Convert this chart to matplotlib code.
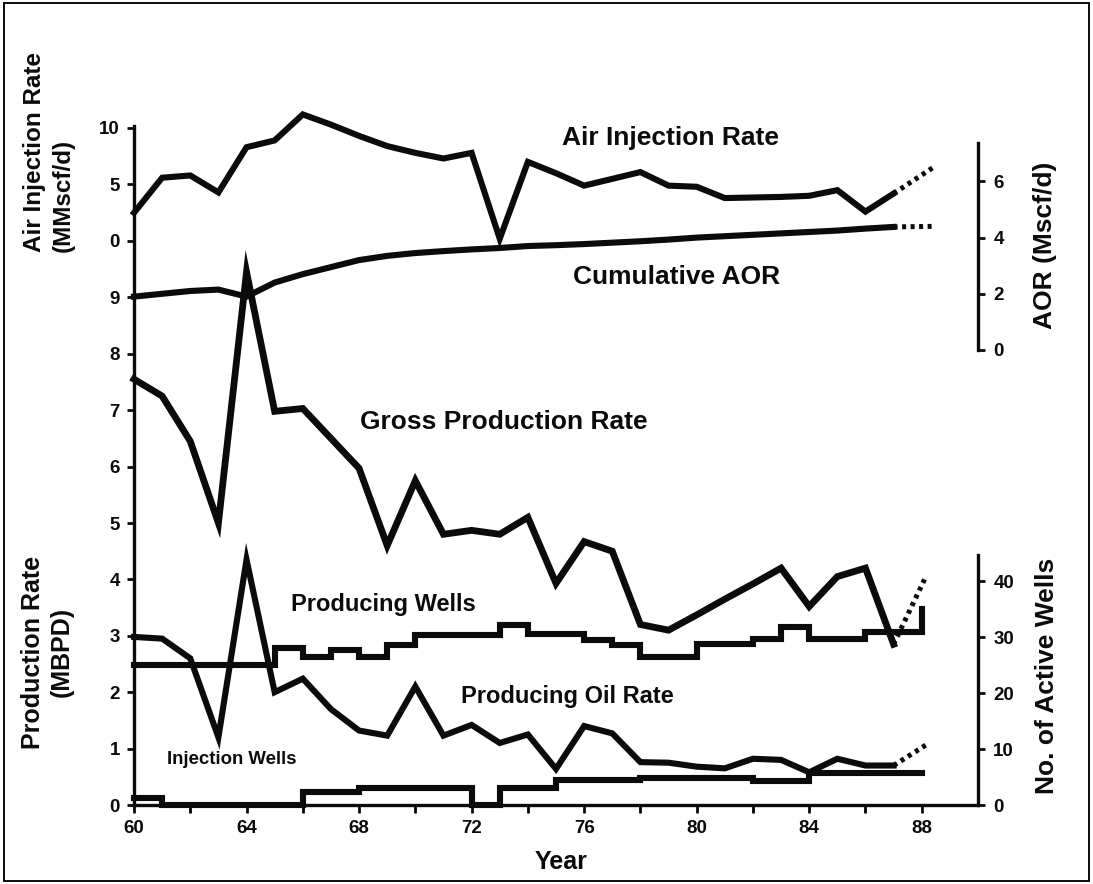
import matplotlib
matplotlib.use("Agg")
import matplotlib.pyplot as plt
from matplotlib.patches import Rectangle

# ---------------- data ----------------
years = list(range(60, 88))

air_injection = [2.5, 5.6, 5.8, 4.3, 8.3, 8.9, 11.2, 10.3, 9.3, 8.4, 7.8, 7.3, 7.8, 0.2,
                 7.0, 6.0, 4.9, 5.5, 6.1, 4.9, 4.8, 3.8, 3.85, 3.9, 4.0, 4.5, 2.6, 4.2]
air_injection_proj_years = [87, 88.4]
air_injection_proj = [4.2, 6.5]

cumulative_aor = [1.9, 2.0, 2.1, 2.15, 1.9, 2.4, 2.7, 2.95, 3.2, 3.35, 3.45, 3.52, 3.58, 3.63,
                  3.7, 3.73, 3.77, 3.82, 3.87, 3.93, 4.0, 4.05, 4.1, 4.15, 4.2, 4.25, 4.32, 4.38]
cumulative_aor_proj_years = [87, 88.4]
cumulative_aor_proj = [4.38, 4.4]

gross_rate = [7.55, 7.25, 6.45, 5.0, 9.45, 6.98, 7.03, 6.5, 5.97, 4.6, 5.75, 4.8, 4.87, 4.8,
              5.1, 3.93, 4.67, 4.5, 3.2, 3.1, 3.37, 3.65, 3.92, 4.2, 3.52, 4.05, 4.2, 2.85]
gross_rate_proj_years = [87, 88.1]
gross_rate_proj = [2.85, 4.0]

oil_rate = [2.98, 2.95, 2.6, 1.2, 4.35, 2.0, 2.24, 1.7, 1.32, 1.23, 2.1, 1.23, 1.42, 1.1,
            1.25, 0.64, 1.4, 1.27, 0.76, 0.75, 0.68, 0.65, 0.82, 0.8, 0.58, 0.82, 0.7, 0.7]
oil_rate_proj_years = [87, 88.2]
oil_rate_proj = [0.7, 1.08]

producing_wells_years = [60, 65, 66, 67, 68, 69, 70, 73, 74, 76, 77, 78, 80, 82, 83, 84, 86, 88, 88]
producing_wells = [25, 28, 26.5, 27.7, 26.5, 28.5, 30.3, 32.2, 30.5, 29.5, 28.6, 26.4, 28.8,
                   29.6, 31.8, 29.6, 30.9, 30.9, 35]

injection_wells_years = [60, 61, 66, 68, 72, 73, 75, 78, 82, 84, 88]
injection_wells = [1.2, 0, 2.3, 3.0, 0, 3.0, 4.4, 4.8, 4.2, 5.8, 5.8]

year_ticks = [60, 64, 68, 72, 76, 80, 84, 88]
year_minor = [62, 66, 70, 74, 78, 82, 86]
prod_ticks = list(range(0, 10))
air_ticks = [0, 5, 10]
aor_ticks = [0, 2, 4, 6]
wells_ticks = [0, 10, 20, 30, 40]

# ---------------- layout ----------------
W, H = 1093, 884
INK = "#0b0b0b"
plt.rcParams["font.family"] = ["Liberation Sans", "DejaVu Sans"]
tick_font = {"family": ["Liberation Sans Narrow", "Liberation Sans", "DejaVu Sans"],
             "size": 13.5, "weight": "bold"}

fig = plt.figure(figsize=(W / 100, H / 100), dpi=100)


def rect(x0, y_top, x1, y_bot):
    return [x0 / W, 1 - y_bot / H, (x1 - x0) / W, (y_bot - y_top) / H]


def fx(x):
    return x / W


def fy(y):
    return 1 - y / H


X0, X1 = 134, 978
PROD_PX = 56.4

ax = fig.add_axes(rect(X0, 126, X1, 805))
ax_air = fig.add_axes(rect(X0, 128, X1, 241))
ax_aor = fig.add_axes(rect(X0, 143, X1, 350))
ax_wells = fig.add_axes(rect(X0, 555, X1, 805))

for a in (ax, ax_air, ax_aor, ax_wells):
    a.set_xlim(60, 90)
    a.patch.set_visible(False)
    for s in a.spines.values():
        s.set_visible(False)
        s.set_linewidth(2.4)
        s.set_color(INK)
    a.tick_params(colors=INK, width=2.0, length=5, pad=5)

ax.set_ylim(0, (805 - 126) / PROD_PX)
ax_air.set_ylim(0, 10)
ax_aor.set_ylim(0, (350 - 143) / 28.1)
ax_wells.set_ylim(0, (805 - 555) / 5.6)

# main axes: production rate + year
ax.spines["left"].set_visible(True)
ax.spines["bottom"].set_visible(True)
ax.set_yticks(prod_ticks)
ax.set_yticklabels([str(t) for t in prod_ticks], fontdict=tick_font)
ax.set_xticks(year_ticks)
ax.set_xticks(year_minor, minor=True)
ax.set_xticklabels([str(t) for t in year_ticks], fontdict=tick_font)
ax.tick_params(axis="x", which="both", direction="out", length=6, width=2.0, pad=5)

# air injection scale on the upper part of the left axis
ax_air.set_xticks([])
ax_air.set_yticks(air_ticks)
ax_air.set_yticklabels([str(t) for t in air_ticks], fontdict=tick_font)

# AOR scale on the upper right
ax_aor.spines["right"].set_visible(True)
ax_aor.set_xticks([])
ax_aor.yaxis.tick_right()
ax_aor.set_yticks(aor_ticks)
ax_aor.set_yticklabels([str(t) for t in aor_ticks], fontdict=tick_font)
ax_aor.tick_params(axis="y", direction="out", length=5, pad=6)

# active wells scale on the lower right
ax_wells.spines["right"].set_visible(True)
ax_wells.set_xticks([])
ax_wells.yaxis.tick_right()
ax_wells.set_yticks(wells_ticks)
ax_wells.set_yticklabels([str(t) for t in wells_ticks], fontdict=tick_font)
ax_wells.tick_params(axis="y", direction="out", length=5, pad=6)

# ---------------- series ----------------
LW = 4.4
dots = (0, (0.8, 0.9))
solid = dict(color=INK, lw=LW, clip_on=False, solid_joinstyle="miter")
proj = dict(color=INK, lw=3.6, ls=dots, clip_on=False)

ax_air.plot(years, air_injection, **solid)
ax_air.plot(air_injection_proj_years, air_injection_proj, **proj)

ax_aor.plot(years, cumulative_aor, **solid)
ax_aor.plot(cumulative_aor_proj_years, cumulative_aor_proj, **proj)

ax.plot(years, gross_rate, color=INK, lw=4.9, clip_on=False, solid_joinstyle="miter")
ax.plot(gross_rate_proj_years, gross_rate_proj, **proj)

ax.plot(years, oil_rate, **solid)
ax.plot(oil_rate_proj_years, oil_rate_proj, **proj)

ax_wells.step(producing_wells_years, producing_wells, where="post", **solid)
ax_wells.step(injection_wells_years, injection_wells, where="post", **solid)

# ---------------- labels ----------------
def label(x, y, s, size, **kw):
    fig.text(fx(x), fy(y), s, fontsize=size, fontweight="bold", color=INK,
             ha=kw.pop("ha", "center"), va=kw.pop("va", "center"), **kw)


label(671, 138, "Air Injection Rate", 19)
label(677, 277, "Cumulative AOR", 19)
label(504, 422, "Gross Production Rate", 19)
label(383, 605, "Producing Wells", 17)
label(567, 697, "Producing Oil Rate", 17)
label(232, 760, "Injection Wells", 13.4)
label(561, 862, "Year", 18)

label(35, 252, "Air Injection Rate", 17.5, rotation=90, va="bottom")
label(63, 252, "(MMscf/d)", 17.5, rotation=90, va="bottom")
label(33, 652, "Production Rate", 18, rotation=90)
label(62, 652, "(MBPD)", 18, rotation=90)
label(1045, 245, "AOR (Mscf/d)", 19, rotation=90)
label(1047, 676, "No. of Active Wells", 19, rotation=90)

# outer frame
fig.patches.append(Rectangle((fx(4), fy(881)), fx(1089) - fx(4), fy(3) - fy(881),
                             transform=fig.transFigure, fill=False, lw=1.4,
                             edgecolor=INK))

fig.savefig("out.png", dpi=100, facecolor="white")
